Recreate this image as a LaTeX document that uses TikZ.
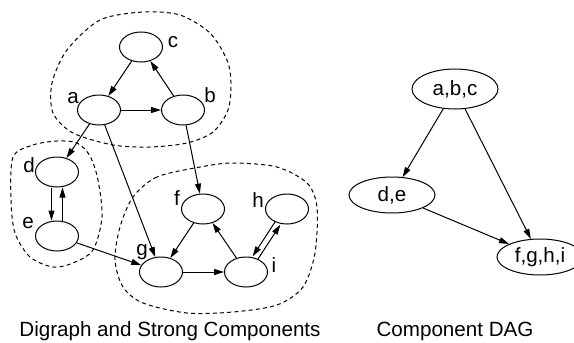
\documentclass[tikz,border=0pt]{standalone}
\usepackage{fontspec}
\setmainfont{Liberation Sans}
\usetikzlibrary{shapes.geometric,arrows.meta}
\tikzset{
  vertex/.style={draw, ellipse, inner sep=0pt, minimum width=21.5pt, minimum height=15pt},
  comp/.style={draw, ellipse, inner sep=0pt, minimum width=43pt, minimum height=18pt},
  lbl/.style={anchor=base, inner sep=0pt},
  blob/.style={dash pattern=on 2pt off 1.6pt},
}
\begin{document}
\begin{tikzpicture}[x=0.5pt, y=-0.5pt, line width=0.5pt, >={Triangle[length=5pt,width=3pt]},
    font=\fontsize{10.3}{12}\selectfont]
\useasboundingbox (0,0) rectangle (574,343);
% digraph
\node[vertex] at (141,47) (c) {};
\node[vertex] at (99,110) (a) {};
\node[vertex] at (183,110) (b) {};
\node[vertex] at (57,172) (d) {};
\node[vertex] at (57,236) (e) {};
\node[vertex] at (203,209) (f) {};
\node[vertex] at (287,209) (h) {};
\node[vertex] at (161,272) (g) {};
\node[vertex] at (246,272) (i) {};
\node[lbl] at (173,47) (lc) {c};
\node[lbl] at (73,103) (la) {a};
\node[lbl] at (210,102) (lb) {b};
\node[lbl] at (29,172) (ld) {d};
\node[lbl] at (28,228) (le) {e};
\node[lbl] at (177,205) (lf) {f};
\node[lbl] at (258,207) (lh) {h};
\node[lbl] at (142,255) (lg) {g};
\node[lbl] at (274,272) (li) {i};
\draw[->] (c)--(a);
\draw[->] (a)--(b);
\draw[->] (b)--(c);
\draw[->] (a)--(d);
\draw[->] (a)--(g);
\draw[->] (b)--(f);
\draw[->, transform canvas={xshift=-2.75pt}] (d)--(e);
\draw[->, transform canvas={xshift=2.75pt}] (e)--(d);
\draw[->] (e)--(g);
\draw[->] (f)--(g);
\draw[->] (g)--(i);
\draw[->] (i)--(f);
\draw[->, transform canvas={xshift=-1.25pt,yshift=0.8pt}] (h)--(i);
\draw[->, transform canvas={xshift=1.25pt,yshift=-0.8pt}] (i)--(h);
% strong components
\draw[blob] plot[smooth cycle] coordinates {(143,12) (100,20) (67,50) (52,83) (53,113)
  (73,133) (113,145) (150,147) (187,143) (213,132) (228,110) (231,83) (227,60) (210,33) (180,15)};
\draw[blob] plot[smooth cycle] coordinates {(13,157) (33,145) (57,141) (77,143) (90,156)
  (98,180) (102,217) (93,250) (73,263) (53,267) (30,257) (15,233) (11,200)};
\draw[blob] plot[smooth cycle] coordinates {(200,167) (157,177) (133,197) (120,227) (115,260)
  (123,287) (143,303) (187,313) (233,312) (277,305) (303,287) (315,253) (317,207) (307,183)
  (277,167) (233,163)};
% component dag
\node[comp, minimum height=20pt] at (455,89) (abc) {a,b,c};
\node[comp] at (392,195) (de) {d,e};
\node[comp] at (540,257) (fghi) {f,g,h,i};
\draw[->] (abc)--(de);
\draw[->] (abc)--(fghi);
\draw[->] (de)--(fghi);
% captions
\node[lbl] at (170,336) (cap1) {Digraph and Strong Components};
\node[lbl] at (455,336) (cap2) {Component DAG};
\end{tikzpicture}
\end{document}
